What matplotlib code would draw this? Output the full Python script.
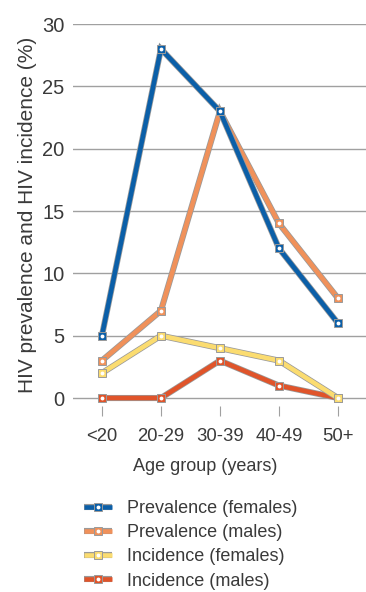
import matplotlib
matplotlib.use("Agg")
import matplotlib.pyplot as plt
import matplotlib.patheffects as pe
from matplotlib.legend_handler import HandlerTuple

# Data
age_groups = ['<20', '20-29', '30-39', '40-49', '50+']
prev_females = [5, 28, 23, 12, 6]
prev_males = [3, 7, 23, 14, 8]
inc_females = [2, 5, 4, 3, 0]
inc_males = [0, 0, 3, 1, 0]

labels = ['Prevalence (females)', 'Prevalence (males)',
          'Incidence (females)', 'Incidence (males)']
colors = ['#0b5fa8', '#f0915a', '#fbdc70', '#e0542a']
series = [prev_females, prev_males, inc_females, inc_males]

plt.rcParams['font.family'] = ['Liberation Sans', 'DejaVu Sans']
text_col = '#3a3a3a'
edge_col = '#9a9a9a'

fig = plt.figure(figsize=(3.66, 5.92), dpi=100)
ax = fig.add_axes([73 / 366, 1 - 405.5 / 592, 1 - 73 / 366, (405.5 - 24) / 592])

x = list(range(len(age_groups)))
outline = [pe.Stroke(linewidth=4.4, foreground=edge_col), pe.Normal()]

# draw order: red, yellow, orange, blue (blue on top)
handles = {}
for i in [3, 2, 1, 0]:
    z = 3 + (3 - i)
    ln, = ax.plot(x, series[i], color=colors[i], lw=3.3, clip_on=False,
                  solid_joinstyle='miter', solid_capstyle='butt', zorder=z,
                  path_effects=outline)
    sq, = ax.plot(x, series[i], ls='none', marker='s', ms=5.2, mfc=colors[i],
                  mec=edge_col, mew=0.7, clip_on=False, zorder=z + 0.1)
    dot, = ax.plot(x, series[i], ls='none', marker='o', ms=2.8, mfc='white',
                   mec='white', mew=0, clip_on=False, zorder=z + 0.2)
    handles[i] = (ln, sq, dot)

ax.set_xlim(-0.49, 4.475)
ax.set_ylim(-0.6, 30)
ax.set_yticks([0, 5, 10, 15, 20, 25, 30])
ax.set_xticks(x)
ax.set_xticklabels(age_groups)
ax.grid(axis='y', color='#a0a0a0', lw=1)
ax.set_axisbelow(True)
for s in ax.spines.values():
    s.set_visible(False)
ax.tick_params(axis='y', length=0, pad=6, labelsize=14.5, labelcolor=text_col)
ax.tick_params(axis='x', length=7, width=0.8, color='#a0a0a0', pad=9,
               labelsize=13.3, labelcolor=text_col)
ax.set_xlabel('Age group (years)', fontsize=13, color=text_col)
ax.xaxis.set_label_coords(0.45, -0.137)
ax.set_ylabel('HIV prevalence and HIV incidence (%)', fontsize=15,
              color=text_col, labelpad=4)

leg = fig.legend([handles[i] for i in range(4)], labels,
                 handler_map={tuple: HandlerTuple(ndivide=1, pad=0)},
                 loc='upper left', bbox_to_anchor=(75 / 366, 1 - 491 / 592),
                 frameon=False, fontsize=13, handlelength=1.55,
                 handletextpad=0.85, labelspacing=0.4, borderpad=0)
for t in leg.get_texts():
    t.set_color(text_col)

fig.savefig('out.png', dpi=100)
